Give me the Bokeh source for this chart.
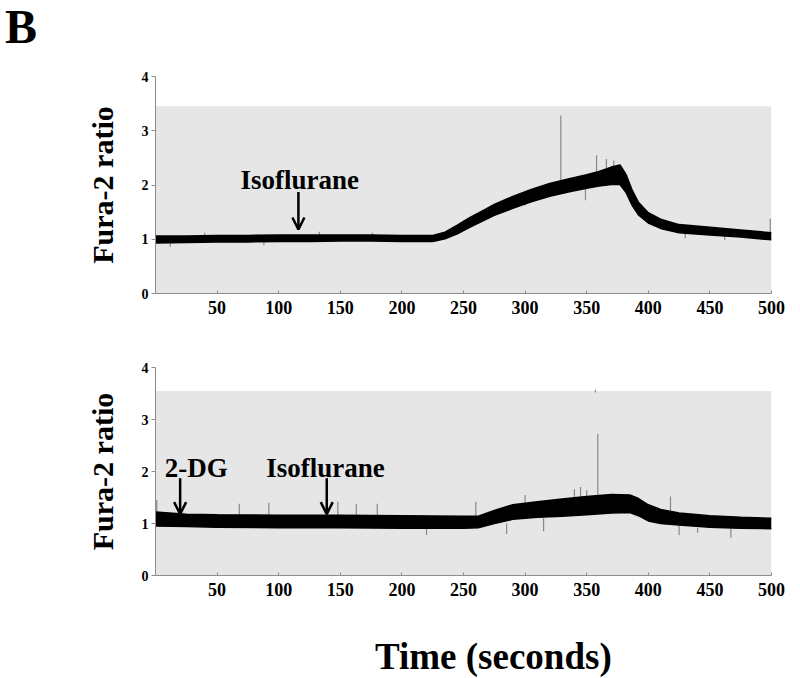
from bokeh.plotting import figure
from bokeh.layouts import column
from bokeh.models import FixedTicker, Arrow, OpenHead, Label, Div
from bokeh.embed import file_html
from bokeh.resources import INLINE

# ---------------- data ----------------
x_ticks = [50, 100, 150, 200, 250, 300, 350, 400, 450, 500]
y_ticks = [0, 1, 2, 3, 4]

# top panel: envelope of the noisy trace
top_x = [0, 25, 50, 75, 100, 125, 150, 175, 200, 225, 235, 245, 255, 265, 275,
         290, 305, 320, 335, 350, 360, 370, 377, 382, 387, 392, 400, 410, 425,
         450, 475, 500]
top_lo = [0.93, 0.94, 0.95, 0.95, 0.96, 0.96, 0.97, 0.97, 0.96, 0.96, 1.01, 1.10,
          1.22, 1.33, 1.44, 1.57, 1.69, 1.79, 1.87, 1.94, 1.98, 2.01, 2.01, 1.86,
          1.62, 1.45, 1.30, 1.20, 1.12, 1.08, 1.04, 0.99]
top_hi = [1.06, 1.06, 1.07, 1.07, 1.08, 1.08, 1.08, 1.08, 1.07, 1.07, 1.13, 1.26,
          1.40, 1.52, 1.64, 1.79, 1.92, 2.03, 2.11, 2.19, 2.25, 2.33, 2.37, 2.19,
          1.90, 1.68, 1.49, 1.37, 1.27, 1.22, 1.17, 1.12]
top_spk_x = [329, 358, 349, 499, 133, 40, 392, 12, 88, 176, 270, 300, 366, 372, 430, 462]
top_spk_y0 = [2.05, 2.25, 1.95, 1.12, 1.08, 1.06, 1.6, 0.93, 0.95, 0.97, 1.37, 1.62, 2.25, 2.3, 1.12, 1.07]
top_spk_y1 = [3.28, 2.55, 1.72, 1.38, 1.14, 1.12, 1.45, 0.86, 0.89, 1.12, 1.48, 1.78, 2.48, 2.45, 1.02, 0.98]

# bottom panel
bot_x = [0, 25, 50, 100, 150, 200, 250, 262, 275, 290, 310, 330, 350, 370, 385,
         392, 400, 410, 425, 450, 475, 500]
bot_lo = [0.95, 0.94, 0.93, 0.92, 0.92, 0.91, 0.91, 0.92, 1.00, 1.08, 1.12, 1.14,
          1.17, 1.20, 1.21, 1.15, 1.05, 1.00, 0.97, 0.93, 0.91, 0.90]
bot_hi = [1.22, 1.18, 1.17, 1.16, 1.16, 1.15, 1.14, 1.14, 1.25, 1.36, 1.42, 1.47,
          1.52, 1.56, 1.55, 1.48, 1.36, 1.27, 1.20, 1.15, 1.12, 1.10]
bot_spk_x = [1, 68, 92, 148, 163, 180, 260, 285, 315, 345, 418, 425, 467, 220, 359, 357,
             340, 350, 300, 440]
bot_spk_y0 = [1.2, 1.17, 1.16, 1.16, 1.16, 1.16, 1.14, 1.0, 1.1, 1.5, 1.22, 0.97, 0.92, 0.92, 1.5, 3.52,
              1.5, 1.5, 1.4, 0.92]
bot_spk_y1 = [1.45, 1.38, 1.40, 1.42, 1.37, 1.38, 1.42, 0.80, 0.85, 1.70, 1.52, 0.78, 0.72, 0.78, 2.72, 3.57,
              1.66, 1.64, 1.55, 0.82]

# grey recording window
bg_right = 500
top_bg = 3.45
bot_bg = 3.55

SERIF = "Liberation Serif"
BG = "#e6e6e6"
AX = "#8c8c8c"
W = 800


def style(p):
    p.xgrid.visible = False
    p.ygrid.visible = False
    p.outline_line_color = None
    p.background_fill_color = "white"
    p.border_fill_color = "white"
    p.xaxis.ticker = FixedTicker(ticks=x_ticks)
    p.yaxis.ticker = FixedTicker(ticks=y_ticks)
    for ax in (p.xaxis[0], p.yaxis[0]):
        ax.axis_line_color = AX
        ax.major_tick_line_color = AX
        ax.minor_tick_line_color = None
        ax.major_label_text_font = SERIF
        ax.major_label_text_font_style = "bold"
        ax.major_label_text_color = "black"
    p.xaxis.major_tick_in = 3
    p.xaxis.major_tick_out = 0
    p.xaxis.major_label_standoff = 7
    p.xaxis.major_label_text_font_size = "18px"
    p.yaxis.major_tick_in = 0
    p.yaxis.major_tick_out = 4
    p.yaxis.major_label_standoff = 3
    p.yaxis.major_label_text_font_size = "14px"
    p.yaxis.axis_label = "Fura-2 ratio"
    p.yaxis.axis_label_text_font = SERIF
    p.yaxis.axis_label_text_font_style = "bold"
    p.yaxis.axis_label_text_font_size = "30px"
    p.yaxis.axis_label_text_color = "black"
    p.yaxis.axis_label_standoff = 20


def annot(p, x, y_text, text, ax_x, y0, y1):
    p.add_layout(Label(x=x, y=y_text, text=text, text_align="center",
                       text_baseline="alphabetic", text_font=SERIF,
                       text_font_style="bold", text_font_size="27px",
                       text_color="black"))
    p.add_layout(Arrow(end=OpenHead(size=12, line_width=2.5, line_color="black"),
                       x_start=ax_x, y_start=y0, x_end=ax_x, y_end=y1,
                       line_width=2.5, line_color="black"))


def text_div(text, height, size, line_h, pad_top, pad_left):
    return Div(text=text, width=W, height=height, margin=0,
               styles={"font-family": SERIF, "font-weight": "bold",
                       "font-size": size, "line-height": line_h,
                       "padding-top": pad_top, "padding-left": pad_left,
                       "color": "black", "white-space": "nowrap",
                       "box-sizing": "border-box", "overflow": "visible"})


# ---------------- "B" ----------------
dB = text_div("B", 50, "48px", "54px", "0px", "5px")

# ---------------- top panel ----------------
p1 = figure(width=W, height=278, x_range=(0, 500), y_range=(0, 4),
            output_backend="svg", toolbar_location=None,
            min_border_left=155, min_border_right=29,
            min_border_top=26, min_border_bottom=35)
style(p1)
p1.quad(left=[0], right=[bg_right], bottom=[0], top=[top_bg],
        fill_color=BG, line_color=None)
p1.segment(x0=top_spk_x, y0=top_spk_y0, x1=top_spk_x, y1=top_spk_y1,
           line_color="#888888", line_width=1.2)
p1.varea(x=top_x, y1=top_lo, y2=top_hi, fill_color="black")
p1.line(top_x, top_lo, line_color="black", line_width=1.5)
p1.line(top_x, top_hi, line_color="black", line_width=1.5)
annot(p1, 117, 2.10, "Isoflurane", 116, 1.87, 1.18)

# ---------------- bottom panel ----------------
p2 = figure(width=W, height=280, x_range=(0, 500), y_range=(0, 4),
            output_backend="svg", toolbar_location=None,
            min_border_left=155, min_border_right=29,
            min_border_top=39, min_border_bottom=33)
style(p2)
p2.quad(left=[0], right=[bg_right], bottom=[0], top=[bot_bg],
        fill_color=BG, line_color=None)
p2.segment(x0=bot_spk_x, y0=bot_spk_y0, x1=bot_spk_x, y1=bot_spk_y1,
           line_color="#888888", line_width=1.2)
p2.varea(x=bot_x, y1=bot_lo, y2=bot_hi, fill_color="black")
p2.line(bot_x, bot_lo, line_color="black", line_width=1.5)
p2.line(bot_x, bot_hi, line_color="black", line_width=1.5)
annot(p2, 33, 2.07, "2-DG", 20, 1.87, 1.18)
annot(p2, 138, 2.07, "Isoflurane", 139, 1.87, 1.18)

# ---------------- x-axis title ----------------
dT = text_div("Time (seconds)", 70, "37px", "37px", "30px", "375px")

layout = column(dB, p1, p2, dT, spacing=0)
open("out.html", "w").write(file_html(layout, INLINE))
